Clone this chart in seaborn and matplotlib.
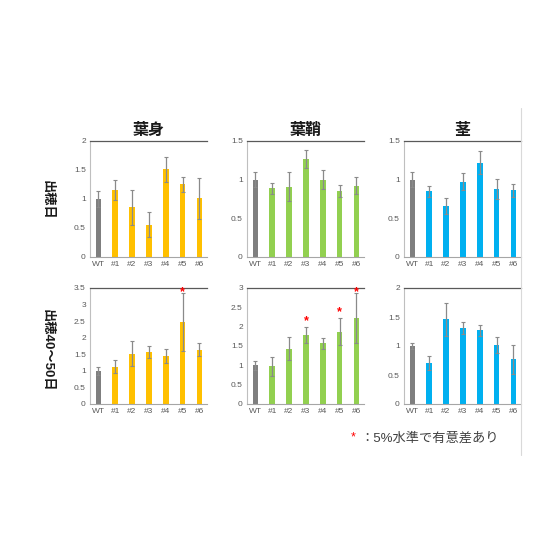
import numpy as np
import pandas as pd
import matplotlib
matplotlib.use("Agg")
import matplotlib.pyplot as plt
import seaborn as sns
from matplotlib.lines import Line2D

# ============================================================
# Data
# ============================================================

lines = ["WT", "#1", "#2", "#3", "#4", "#5", "#6"]
tissues = ["葉身", "葉鞘", "茎"]
stages = ["出穂日", "出穂40～50日"]

# 出穂日
blade_d0 = [1.00, 1.16, 0.86, 0.56, 1.51, 1.25, 1.01]
blade_d0_err = [0.14, 0.17, 0.30, 0.21, 0.21, 0.13, 0.36]
sheath_d0 = [1.00, 0.89, 0.91, 1.27, 1.00, 0.85, 0.92]
sheath_d0_err = [0.10, 0.07, 0.19, 0.12, 0.12, 0.08, 0.11]
stem_d0 = [1.00, 0.85, 0.66, 0.97, 1.22, 0.88, 0.86]
stem_d0_err = [0.10, 0.07, 0.10, 0.11, 0.15, 0.13, 0.09]

# 出穂40～50日
blade_d45 = [1.00, 1.13, 1.52, 1.57, 1.45, 2.48, 1.64]
blade_d45_err = [0.12, 0.20, 0.38, 0.18, 0.22, 0.88, 0.20]
sheath_d45 = [1.00, 0.97, 1.43, 1.79, 1.57, 1.87, 2.22]
sheath_d45_err = [0.12, 0.25, 0.30, 0.20, 0.14, 0.35, 0.65]
stem_d45 = [1.00, 0.70, 1.46, 1.31, 1.27, 1.02, 0.77]
stem_d45_err = [0.06, 0.12, 0.29, 0.11, 0.10, 0.14, 0.25]

# 有意差 (5%)
blade_d45_sig = [False, False, False, False, False, True, False]
sheath_d45_sig = [False, False, False, True, False, True, True]

ylims = [[2, 1.5, 1.5], [3.5, 3, 2]]

panels = [
    [(blade_d0, blade_d0_err, None), (sheath_d0, sheath_d0_err, None), (stem_d0, stem_d0_err, None)],
    [(blade_d45, blade_d45_err, blade_d45_sig), (sheath_d45, sheath_d45_err, sheath_d45_sig),
     (stem_d45, stem_d45_err, None)],
]

tissue_colors = ["#ffc000", "#92d050", "#00b0f0"]
wt_color = "#7f7f7f"

# ============================================================
# Style
# ============================================================

sns.set_style("white")
plt.rcParams["font.family"] = ["Liberation Sans", "Noto Sans CJK JP", "DejaVu Sans"]

fig = plt.figure(figsize=(5.6, 5.6), dpi=100)

lefts = [90 / 560, 247 / 560, 404 / 560]
bottoms = [1 - 257 / 560, 1 - 404 / 560]
w, h = 117 / 560, 116 / 560

for r in range(2):
    for c in range(3):
        vals, errs, sig = panels[r][c]
        ax = fig.add_axes([lefts[c], bottoms[r], w, h])
        df = pd.DataFrame({"line": lines, "value": vals})
        sns.barplot(data=df, x="line", y="value", color=tissue_colors[c],
                    width=0.33, errorbar=None, ax=ax, saturation=1, linewidth=0)
        # WT bar in gray
        ax.patches[0].set_facecolor(wt_color)
        ax.errorbar(np.arange(len(lines)), vals, yerr=errs, fmt="none",
                    ecolor="#8a8a8a", elinewidth=0.9, capsize=1.5, capthick=0.8)

        ymax = ylims[r][c]
        ax.set_ylim(0, ymax)
        ax.set_xlim(-0.5, 6.45)
        ax.set_yticks(np.arange(0, ymax + 0.01, 0.5))
        ax.set_yticklabels([f"{t:g}" for t in np.arange(0, ymax + 0.01, 0.5)])
        ax.set_xlabel("")
        ax.set_ylabel("")
        ax.tick_params(axis="both", length=0, labelsize=6, labelcolor="#595959", pad=3)

        ax.spines["right"].set_visible(False)
        ax.spines["top"].set_color("#595959")
        ax.spines["top"].set_linewidth(0.9)
        ax.spines["left"].set_color("#bfbfbf")
        ax.spines["left"].set_linewidth(0.8)
        ax.spines["bottom"].set_color("#a6a6a6")
        ax.spines["bottom"].set_linewidth(0.8)

        if sig is not None:
            for i, s in enumerate(sig):
                if s:
                    ys = min(vals[i] + errs[i] + 0.05 * ymax, 0.965 * ymax)
                    ax.text(i, ys, "*", color="red", fontsize=9, ha="center", va="center",
                            fontweight="bold", clip_on=False)

        if r == 0:
            ax.set_title(tissues[c], fontsize=11.5, fontweight="bold", pad=4, color="#1a1a1a")

# row labels
fig.text(47 / 560, 1 - 200 / 560, stages[0], rotation=270, ha="center", va="center",
         fontsize=9.5, fontweight="bold", color="#1a1a1a")
fig.text(47 / 560, 1 - 350 / 560, stages[1], rotation=270, ha="center", va="center",
         fontsize=9.5, fontweight="bold", color="#1a1a1a")

# note
fig.text(353 / 560, 1 - 437 / 560, "*", color="red", fontsize=9, ha="center", va="center")
fig.text(360 / 560, 1 - 438 / 560, "：5%水準で有意差あり", color="#404040", fontsize=9.5,
         ha="left", va="center")

# frame line on right
fig.add_artist(Line2D([521 / 560, 521 / 560], [1 - 108 / 560, 1 - 455 / 560],
                      color="#d9d9d9", lw=0.8))

fig.savefig("out.png", dpi=100)
